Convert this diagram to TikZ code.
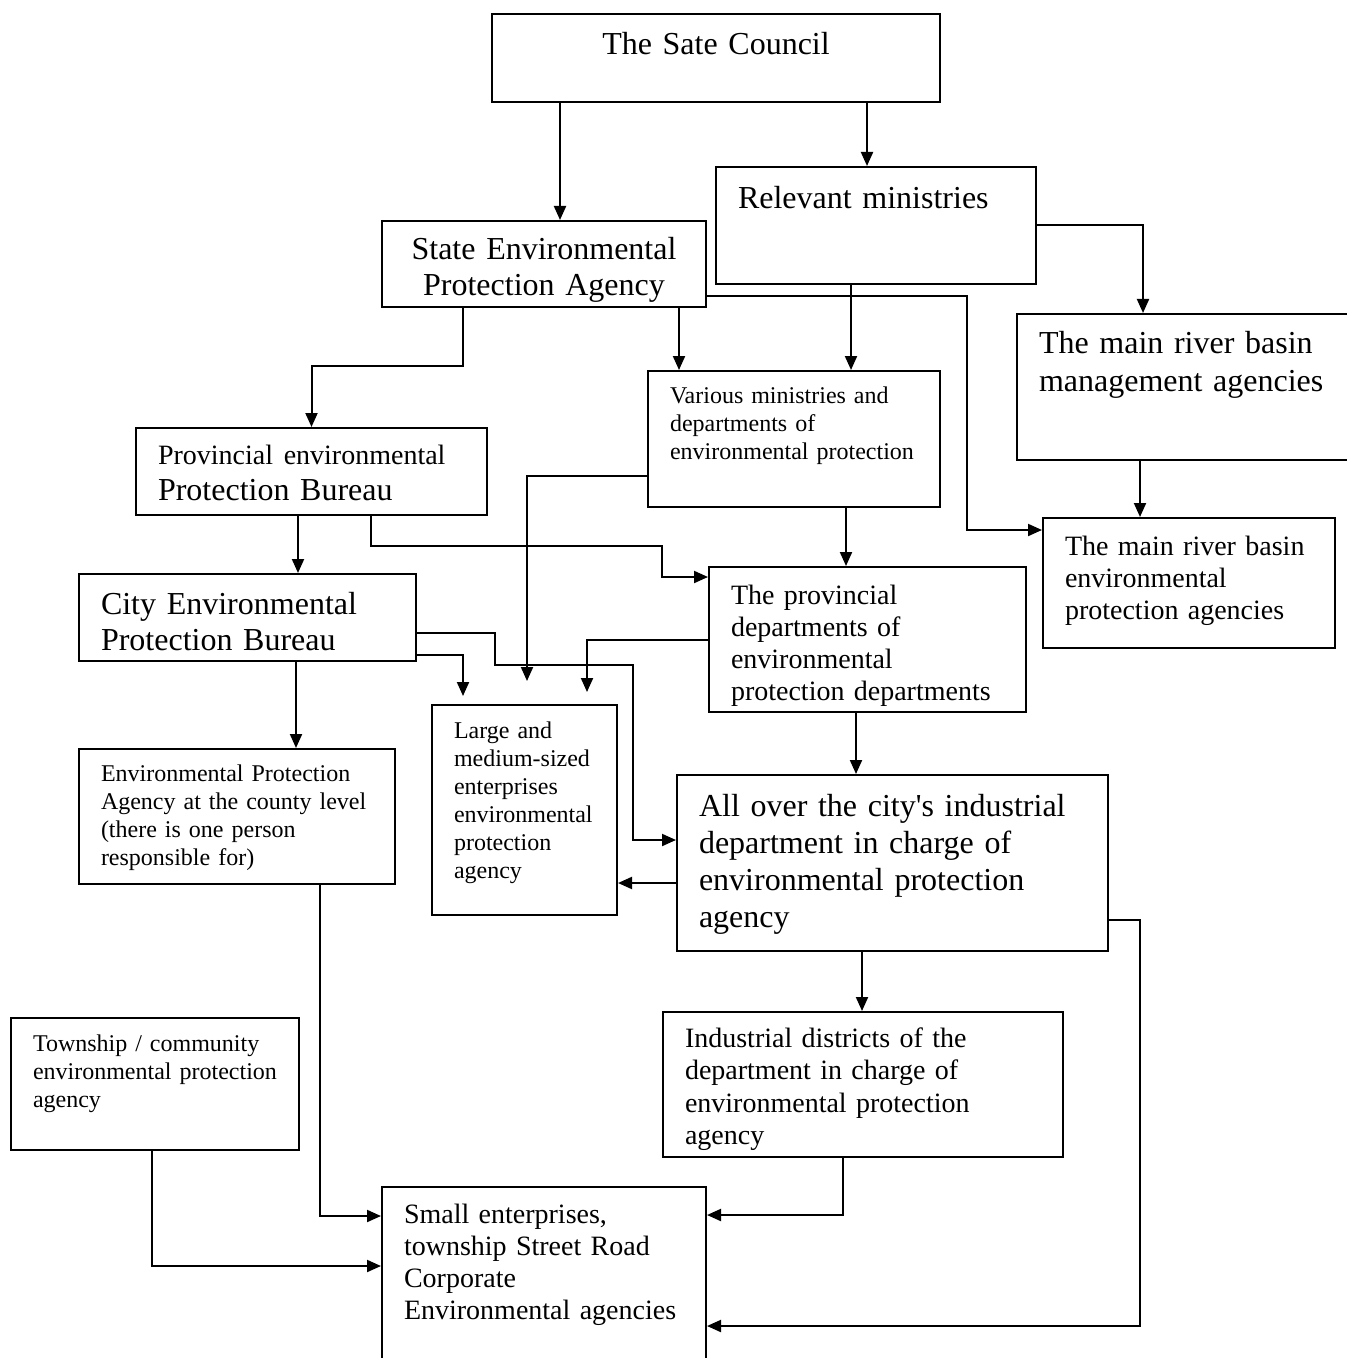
\documentclass[tikz,border=0pt]{standalone}
\usepackage{fontspec}
\setmainfont{Liberation Serif}
\usetikzlibrary{arrows.meta,fit}

\begin{document}
\begin{tikzpicture}[
  x=0.5pt, y=-0.5pt, line width=1pt,
  > = {Triangle[length=7pt,width=6pt]},
  box/.style = {draw, inner sep=0pt, fit={#1}},
  txt/.style = {anchor=base west, inner sep=0pt, align=left, text width=9cm},
  txtL/.style = {txt, font=\fontsize{16}{18}\selectfont},
  txtM/.style = {txt, font=\fontsize{14}{16}\selectfont},
  txtS/.style = {txt, font=\fontsize{12}{14}\selectfont}
  ]
	\useasboundingbox (0,0) rectangle (1347,1358);

	% boxes
	\node[box={(492,14) (940,102)}]     (council)    {};
	\node[box={(716,167) (1036,284)}]   (ministries) {};
	\node[box={(382,221) (706,307)}]    (sepa)       {};
	\node[box={(1017,314) (1352,460)}]  (basin)      {};
	\node[box={(648,371) (940,507)}]    (various)    {};
	\node[box={(136,428) (487,515)}]    (prov)       {};
	\node[box={(79,574) (416,661)}]     (city)       {};
	\node[box={(1043,518) (1335,648)}]  (basinep)    {};
	\node[box={(709,567) (1026,712)}]   (provdept)   {};
	\node[box={(432,705) (617,915)}]    (large)      {};
	\node[box={(79,749) (395,884)}]     (county)     {};
	\node[box={(677,775) (1108,951)}]   (cityind)    {};
	\node[box={(11,1018) (299,1150)}]   (township)   {};
	\node[box={(663,1012) (1063,1157)}] (districts)  {};
	\node[box={(382,1187) (706,1362)}]  (small)      {};

	% texts
	\node[txtL, anchor=base, align=center, text width=224pt] (council-t) at (716,55) {The Sate Council};
	\node[txtL] (ministries-t) at (737,209) {Relevant ministries};
	\node[txtL, anchor=base, align=center, text width=162pt] (sepa-t) at (544,260) {State Environmental\\Protection Agency};
	\node[txtL, font=\fontsize{16}{19}\selectfont] (basin-t) at (1038,353) {The main river basin\\management agencies};
	\node[txtS] (various-t) at (669,403) {Various ministries and\\departments of\\environmental protection};
	\node[txtL] (prov-t) at (157,464) {{\fontsize{14}{18}\selectfont Provincial environmental}\\Protection Bureau};
	\node[txtL] (city-t) at (100,614) {City Environmental\\Protection Bureau};
	\node[txtM] (basinep-t) at (1064,555) {The main river basin\\environmental\\protection agencies};
	\node[txtM] (provdept-t) at (730,604) {The provincial\\departments of\\environmental\\protection departments};
	\node[txtS] (large-t) at (453,738) {Large and\\medium-sized\\enterprises\\environmental\\protection\\agency};
	\node[txtS] (county-t) at (100,781) {Environmental Protection\\Agency at the county level\\(there is one person\\responsible for)};
	\node[txtL, font=\fontsize{16}{18.5}\selectfont] (cityind-t) at (698,816) {All over the city\textquotesingle s industrial\\department in charge of\\environmental protection\\agency};
	\node[txtS] (township-t) at (32,1051) {Township / community\\environmental protection\\agency};
	\node[txtM, font=\fontsize{14}{16.25}\selectfont] (districts-t) at (684,1047) {Industrial districts of the\\department in charge of\\environmental protection\\agency};
	\node[txtM] (small-t) at (403,1223) {Small enterprises,\\township Street Road\\Corporate\\Environmental agencies};

	% connectors
	\draw[->] ([xshift=-78pt]council.south) -- ([xshift=8pt]sepa.north);
	\draw[->] ([xshift=75.5pt]council.south) -- ([xshift=-4.5pt]ministries.north);
	\draw[->] (ministries.east) -| ([xshift=-20.75pt]basin.north);
	\draw[->] ([xshift=-40.5pt]sepa.south) -- ++(0,58) -| (prov.north);
	\draw[->] ([xshift=67.5pt]sepa.south) -- ([xshift=-57.5pt]various.north);
	\draw[->] ([xshift=-12.5pt]ministries.south) -- ([xshift=28.5pt]various.north);
	\draw[->] ([yshift=-16pt]sepa.east) -- ++(260,0) |- ([yshift=26.5pt]basinep.west);
	\draw[->] ([xshift=-22.25pt]basin.south) -- ([xshift=-24.5pt]basinep.north);
	\draw[->] ([xshift=-6.75pt]prov.south) -- ([xshift=25.25pt]city.north);
	\draw[->] ([xshift=29.75pt]prov.south) -- ++(0,30) -- ++(291,0) |- ([yshift=31.25pt]provdept.west);
	\draw[->] ([xshift=26pt]various.south) -- ([xshift=-10.75pt]provdept.north);
	\draw[->, shorten >=11.5pt] ([yshift=-18.5pt]various.west) -| ([xshift=1.25pt]large.north);
	\draw[->, shorten >=6pt] (provdept.west) -| ([xshift=31.25pt]large.north);
	\draw[->, shorten >=4pt] ([yshift=-18.75pt]city.east) -| ([xshift=-30.75pt]large.north);
	\draw[->] ([yshift=-7.75pt]city.east) -- ++(78,0) -- ++(0,32) -- ++(138,0) |- ([yshift=11.5pt]cityind.west);
	\draw[->] ([yshift=-10pt]cityind.west) -- ([yshift=-36.5pt]large.east);
	\draw[->] ([xshift=-5.75pt]provdept.south) -- ([xshift=-18.25pt]cityind.north);
	\draw[->] ([xshift=24.25pt]city.south) -- ([xshift=29.5pt]county.north);
	\draw[->] ([xshift=-15.25pt]cityind.south) -- ([xshift=-0.5pt]districts.north);
	\draw[->] ([yshift=-28.5pt]cityind.east) -- ++(31,0) |- ([yshift=-25.75pt]small.east);
	\draw[->] ([xshift=-10pt]districts.south) |- ([yshift=29.75pt]small.east);
	\draw[->] ([xshift=41.5pt]county.south) |- ([yshift=29.25pt]small.west);
	\draw[->] ([xshift=-1.5pt]township.south) |- ([yshift=4.25pt]small.west);

\end{tikzpicture}
\end{document}
